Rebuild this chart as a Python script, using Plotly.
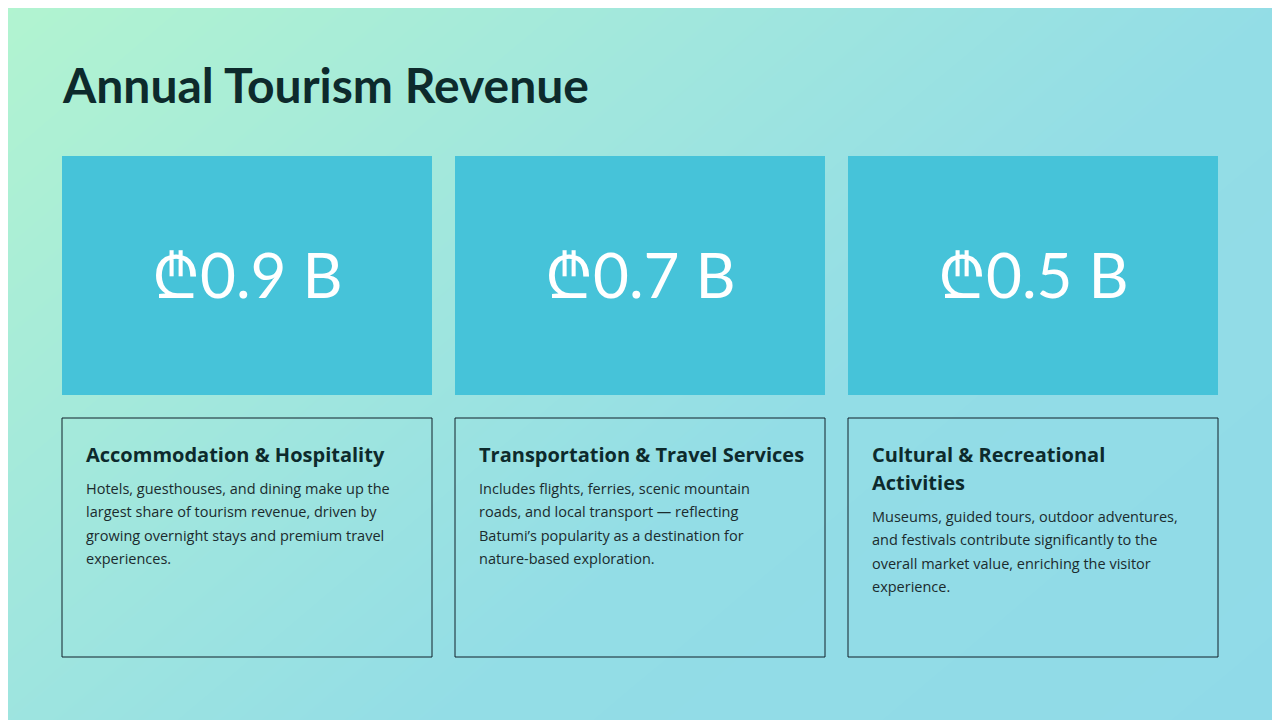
import numpy as np
import plotly.graph_objects as go

title = "Annual Tourism Revenue"
values = [0.9, 0.7, 0.5]
categories = ["Accommodation & Hospitality",
              "Transportation & Travel Services",
              "Cultural & Recreational<br>Activities"]
descriptions = [
    "Hotels, guesthouses, and dining make up the<br>largest share of tourism revenue, driven by<br>growing overnight stays and premium travel<br>experiences.",
    "Includes flights, ferries, scenic mountain<br>roads, and local transport — reflecting<br>Batumi’s popularity as a destination for<br>nature-based exploration.",
    "Museums, guided tours, outdoor adventures,<br>and festivals contribute significantly to the<br>overall market value, enriching the visitor<br>experience.",
]

W, H = 1280, 720
OFF = 8  # page body margin
fig = go.Figure()

# gradient background
gx = np.linspace(0, W + 2 * OFF, 40)
gy = np.linspace(0, H + 2 * OFF, 24)
gz = [[x / W * 0.6 + y / H * 0.4 for x in gx] for y in gy]
fig.add_trace(go.Heatmap(x=gx, y=gy, z=gz, zsmooth="best", showscale=False, hoverinfo="skip",
                         colorscale=[[0, "#b2f4d0"], [0.35, "#a0e6de"], [0.6, "#93dde6"], [1, "#90dae8"]]))

fig.add_annotation(x=60, y=84, text="<b>" + title + "</b>", showarrow=False, xanchor="left", yanchor="middle",
                   font=dict(family="Lato", size=48, color="#0d2a2c"))

lefts = [62, 455, 848]
bw = 370
for i, v in enumerate(values):
    x0 = lefts[i]
    fig.add_shape(type="rect", x0=x0, x1=x0 + bw, y0=156, y1=395, fillcolor="#46c3d9", line_width=0, layer="above")
    fig.add_annotation(x=x0 + bw / 2, y=274, text=f"₾{v:.1f} B", showarrow=False,
                       font=dict(family="Lato", size=62, color="white"))
    fig.add_shape(type="rect", x0=x0, x1=x0 + bw, y0=418, y1=657, fillcolor="rgba(0,0,0,0)",
                  line=dict(color="#10202a", width=1), layer="above")
    for j, line in enumerate(categories[i].split("<br>")):
        fig.add_annotation(x=x0 + 22, y=454 + j * 28, text="<b>" + line + "</b>", showarrow=False,
                           xanchor="left", yanchor="middle",
                           font=dict(family="Open Sans", size=20, color="#0d2a2c"))
    ty = 488 + 28 * (len(categories[i].split("<br>")) - 1)
    for j, line in enumerate(descriptions[i].split("<br>")):
        fig.add_annotation(x=x0 + 22, y=ty + j * 23.5, text=line, showarrow=False,
                           xanchor="left", yanchor="middle",
                           font=dict(family="Open Sans", size=14.5, color="#1b2b2e"))

fig.update_layout(width=W, height=H, margin=dict(l=0, r=0, t=0, b=0), showlegend=False,
                  plot_bgcolor="#93dde6", paper_bgcolor="#93dde6")
fig.update_xaxes(range=[OFF, W + OFF], visible=False, fixedrange=True)
fig.update_yaxes(range=[H + OFF, OFF], visible=False, fixedrange=True)
fig.write_html("out.html")
